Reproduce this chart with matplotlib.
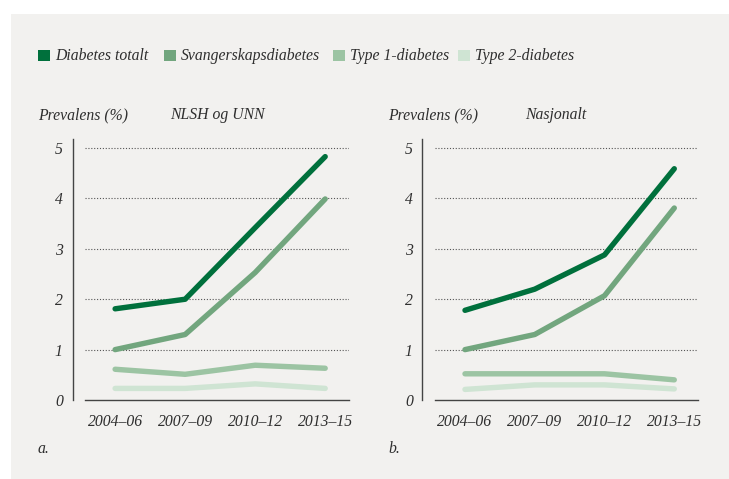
import matplotlib
matplotlib.use("Agg")
import matplotlib.pyplot as plt
from matplotlib.patches import Rectangle

# Data
perioder = ["2004–06", "2007–09", "2010–12", "2013–15"]
serier = ["Diabetes totalt", "Svangerskapsdiabetes", "Type 1-diabetes", "Type 2-diabetes"]
farger = ["#00703c", "#72a67e", "#9cc4a3", "#cfe4d3"]

nlsh_totalt = [1.81, 2.0, 3.42, 4.83]
nlsh_svangerskap = [1.0, 1.3, 2.53, 3.99]
nlsh_type1 = [0.61, 0.51, 0.69, 0.63]
nlsh_type2 = [0.23, 0.23, 0.32, 0.23]

nasj_totalt = [1.78, 2.2, 2.88, 4.59]
nasj_svangerskap = [1.0, 1.3, 2.07, 3.81]
nasj_type1 = [0.52, 0.52, 0.52, 0.40]
nasj_type2 = [0.21, 0.30, 0.30, 0.22]

W, H = 729, 479
FONT = "Liberation Serif"
TXT = "#2e2e2e"
FS = 11.3

fig = plt.figure(figsize=(W / 100, H / 100), dpi=100)
fig.patch.set_facecolor("white")
fig.patches.append(Rectangle((11 / W, 0), 1 - 11 / W, 1 - 14 / H,
                             transform=fig.transFigure, facecolor="#f2f1ef",
                             edgecolor="none", zorder=-10))


def px(x, y):
    return x / W, 1 - y / H


# Legend
leg_x = [38, 164, 333, 458]
for navn, farge, lx in zip(serier, farger, leg_x):
    fig.patches.append(Rectangle(px(lx, 61), 12 / W, 11 / H, transform=fig.transFigure,
                                 facecolor=farge, edgecolor="none"))
    fig.text(*px(lx + 17, 56), navn, fontsize=FS, style="italic", family=FONT,
             color=TXT, va="center", ha="left")


def panel(x0, x1, data, tittel, tittel_x, bokstav):
    ax = fig.add_axes([x0 / W, 1 - 400 / H, (x1 - x0) / W, 261 / H])
    ax.set_facecolor("none")
    xs = range(len(perioder))
    for verdier, farge, z in zip(data, farger, [5, 4, 3, 2]):
        ax.plot(xs, verdier, color=farge, lw=3.9, solid_capstyle="round",
                solid_joinstyle="round", zorder=z)
    ax.set_xlim(-0.43, 3.34)
    ax.set_ylim(0, 5.18)
    ax.set_yticks(range(6))
    ax.set_xticks(list(xs))
    ax.set_xticklabels(perioder)
    for y in range(1, 6):
        ax.axhline(y, color="#555555", lw=0.8, ls=(0, (1, 1.6)), zorder=1)
    for s in ["top", "right"]:
        ax.spines[s].set_visible(False)
    ax.spines["left"].set_position(("outward", 9))
    ax.spines["left"].set_color("#444444")
    ax.spines["bottom"].set_color("#444444")
    ax.spines["left"].set_linewidth(1.0)
    ax.spines["bottom"].set_linewidth(1.0)
    ax.tick_params(axis="x", length=0, pad=10)
    ax.tick_params(axis="y", length=0, pad=7)
    for lab in ax.get_xticklabels() + ax.get_yticklabels():
        lab.set_fontstyle("italic")
        lab.set_family(FONT)
        lab.set_fontsize(FS)
        lab.set_color(TXT)
    fig.text(*px(x0 - 47, 115), "Prevalens (%)", fontsize=FS, style="italic",
             family=FONT, color=TXT, va="center", ha="left")
    fig.text(*px(tittel_x, 115), tittel, fontsize=FS, style="italic",
             family=FONT, color=TXT, va="center", ha="center")
    fig.text(*px(x0 - 47, 449), bokstav, fontsize=FS, style="italic",
             family=FONT, color=TXT, va="center", ha="left")


panel(85, 349, [nlsh_totalt, nlsh_svangerskap, nlsh_type1, nlsh_type2],
      "NLSH og UNN", 217, "a.")
panel(435, 698, [nasj_totalt, nasj_svangerskap, nasj_type1, nasj_type2],
      "Nasjonalt", 556, "b.")

fig.savefig("out.png", dpi=100)
